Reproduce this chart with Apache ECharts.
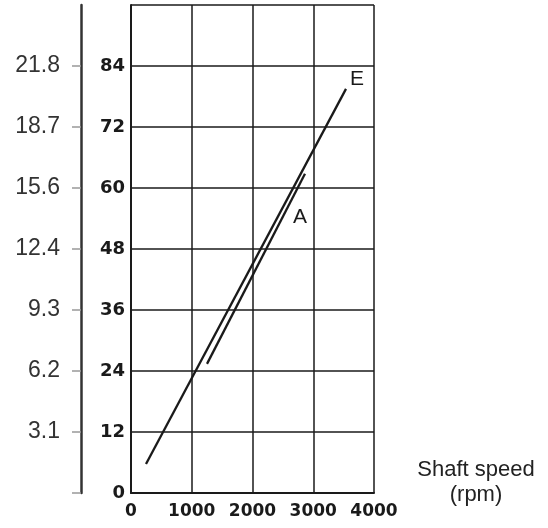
<!DOCTYPE html>
<html>
<head>
<meta charset="utf-8">
<script src="https://cdn.jsdelivr.net/npm/echarts@6/dist/echarts.min.js"></script>
<style>
  html, body { margin: 0; padding: 0; background: #fff; }
  #container { width: 548px; height: 528px; }
</style>
</head>
<body>
<div id="container"></div>
<script>
// values
var lineE = [[247, 5.7], [3539, 79.5]];
var lineA = [[1251, 25.4], [2864, 62.8]];
var innerTicks = [0, 12, 24, 36, 48, 60, 72, 84];
var leftTicks = [0, 12, 24, 36, 48, 60, 72, 84];
var leftLabels = ['', '3.1', '6.2', '9.3', '12.4', '15.6', '18.7', '21.8'];

var dom = document.getElementById('container');
var myChart = echarts.init(dom, null, { renderer: 'canvas' });
var ink = '#1a1a1a';

var option = {
    backgroundColor: '#fff',
    animation: false,
    grid: { left: 131, top: 5, width: 243, height: 488 },
    xAxis: {
        type: 'value',
        min: 0,
        max: 4000,
        interval: 1000,
        axisLine: { show: true, lineStyle: { color: ink, width: 2 } },
        axisTick: { show: false },
        axisLabel: {
            margin: 10,
            color: ink,
            fontFamily: 'DejaVu Sans',
            fontSize: 17,
            fontWeight: 'bold',
            formatter: function (v) { return String(v); }
        },
        splitLine: { show: true, lineStyle: { color: ink, width: 1.5 } }
    },
    yAxis: [
        {
            type: 'value',
            min: 0,
            max: 96,
            interval: 12,
            axisLine: { show: true, lineStyle: { color: ink, width: 2 } },
            axisTick: { show: false },
            axisLabel: {
                margin: 6,
                color: ink,
                fontFamily: 'DejaVu Sans',
                fontSize: 18,
                fontWeight: 'bold',
                customValues: innerTicks
            },
            splitLine: { show: true, lineStyle: { color: ink, width: 1.5 } }
        },
        {
            type: 'value',
            position: 'left',
            offset: 50,
            min: 0,
            max: 96,
            interval: 12,
            axisLine: { show: true, onZero: false, lineStyle: { color: '#333', width: 2.5 } },
            axisTick: {
                show: true,
                length: 9,
                customValues: leftTicks,
                lineStyle: { color: '#999', width: 1.5 }
            },
            axisLabel: {
                margin: 21,
                color: '#333',
                fontFamily: 'Liberation Sans',
                fontSize: 23,
                customValues: leftTicks,
                formatter: function (v) {
                    var i = leftTicks.indexOf(v);
                    return i >= 0 ? leftLabels[i] : '';
                }
            },
            splitLine: { show: false }
        }
    ],
    graphic: [
        {
            type: 'text',
            x: 476,
            y: 457,
            style: {
                text: 'Shaft speed\n(rpm)',
                fill: '#222',
                font: '22px "Liberation Sans"',
                align: 'center',
                verticalAlign: 'top',
                lineHeight: 25
            }
        }
    ],
    series: [
        {
            name: 'E',
            type: 'line',
            symbol: 'none',
            lineStyle: { color: ink, width: 2.3 },
            endLabel: {
                show: true, formatter: 'E', offset: [-4, -10],
                color: ink, fontFamily: 'Liberation Sans', fontSize: 21
            },
            data: lineE
        },
        {
            name: 'A',
            type: 'line',
            symbol: 'none',
            lineStyle: { color: ink, width: 2.3 },
            endLabel: {
                show: true, formatter: 'A', offset: [-20, 43],
                color: ink, fontFamily: 'Liberation Sans', fontSize: 21
            },
            data: lineA
        }
    ]
};

myChart.setOption(option);
</script>
</body>
</html>
